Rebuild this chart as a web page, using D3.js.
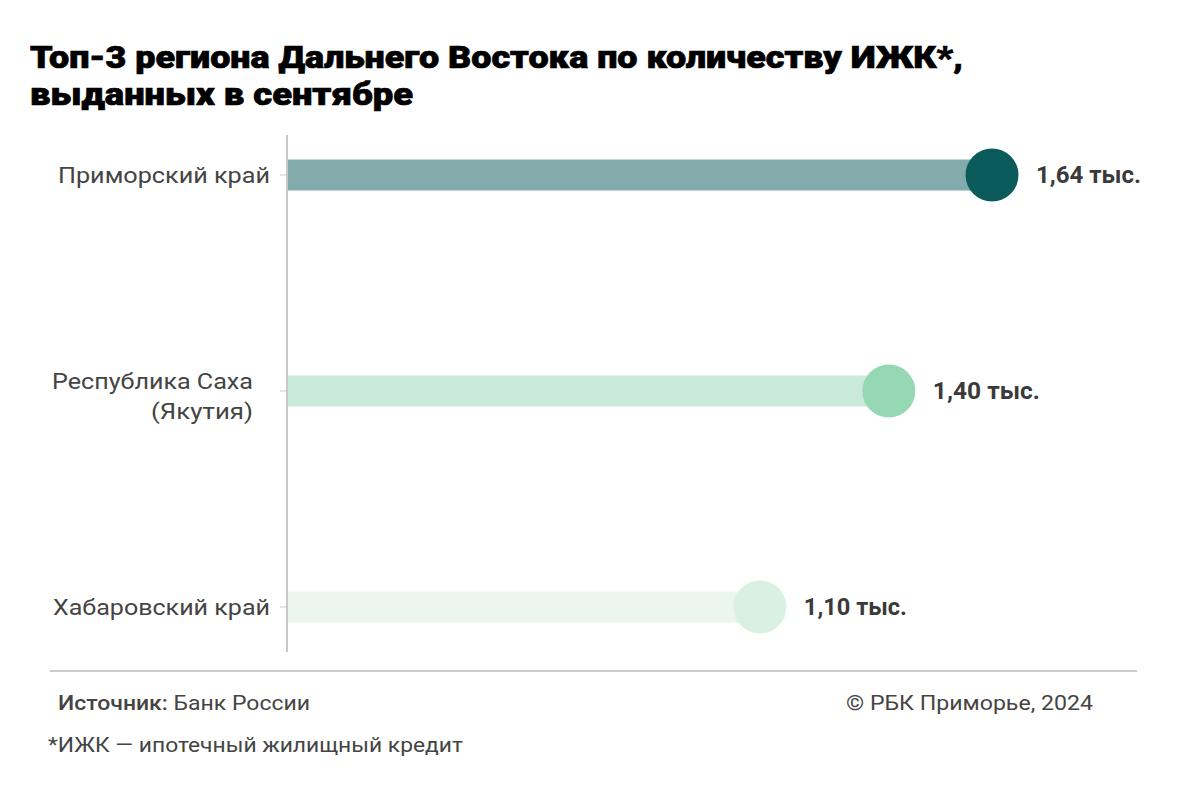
<!DOCTYPE html>
<html><head><meta charset="utf-8">
<script src="https://cdn.jsdelivr.net/npm/d3@7"></script>
<style>body{margin:0;background:#fff}svg{display:block}</style>
</head><body>
<svg id="c" width="1193" height="789"></svg>
<script>
const categories = [["Приморский край"], ["Республика Саха", "(Якутия)"], ["Хабаровский край"]];
const values = [1.64, 1.40, 1.10];
const valueLabels = ["1,64 тыс.", "1,40 тыс.", "1,10 тыс."];
const barColors = ["#83abab", "#c9eadb", "#ebf6ef"];
const dotColors = ["#0b5b5a", "#95d8b3", "#d9f0e3"];

const svg = d3.select("#c");
const font = "Roboto, 'Noto Sans', sans-serif";

function fitText(sel, w) {
  const n = sel.node();
  const cur = n.getComputedTextLength();
  if (Math.abs(cur - w) > 1) sel.attr("textLength", w).attr("lengthAdjust", "spacingAndGlyphs");
  return sel;
}

fitText(svg.append("text").attr("x", 30).attr("y", 68).attr("font-family", font).attr("font-weight", 900)
  .attr("font-size", 31).attr("fill", "#000").attr("stroke", "#000").attr("stroke-width", 0.7)
  .text("Топ-3 региона Дальнего Востока по количеству ИЖК*,"), 933);
fitText(svg.append("text").attr("x", 30).attr("y", 105).attr("font-family", font).attr("font-weight", 900)
  .attr("font-size", 31).attr("fill", "#000").attr("stroke", "#000").attr("stroke-width", 0.7)
  .text("выданных в сентябре"), 383);

const x = d3.scaleLinear().domain([0, 1.64]).range([287, 992]);
const y = d3.scalePoint().domain(d3.range(categories.length)).range([175, 607]);

svg.append("line").attr("x1", 287).attr("x2", 287).attr("y1", 135).attr("y2", 652)
  .attr("stroke", "#c8c8c8").attr("stroke-width", 2);

const g = svg.selectAll("g.row").data(values).join("g").attr("class", "row");
g.append("line").attr("x1", 280).attr("x2", 287).attr("y1", (d, i) => y(i)).attr("y2", (d, i) => y(i))
  .attr("stroke", "#c8c8c8").attr("stroke-width", 1);
g.append("rect").attr("x", 288).attr("y", (d, i) => y(i) - 15.5).attr("height", 31)
  .attr("width", d => x(d) - 288).attr("fill", (d, i) => barColors[i]);
g.append("circle").attr("cx", d => x(d)).attr("cy", (d, i) => y(i)).attr("r", 26.5)
  .attr("fill", (d, i) => dotColors[i]);
const valueWidths = [105, 107, 103];
g.each(function(d, i) {
  const t = d3.select(this).append("text").attr("x", x(d) + 44).attr("y", y(i) + 8)
    .attr("font-family", font).attr("font-weight", 700).attr("font-size", 23).attr("fill", "#3a3a3a")
    .text(valueLabels[i]);
  fitText(t, valueWidths[i]);
});
const labelWidths = [[212], [201, 102], [217]];
g.each(function(d, i) {
  const lines = categories[i];
  const off = lines.length === 1 ? 8 : -2;
  lines.forEach((l, j) => {
    const t = d3.select(this).append("text").attr("text-anchor", "end")
      .attr("x", lines.length === 1 ? 270 : 253).attr("y", y(i) + off + j * 30)
      .attr("font-family", font).attr("font-size", 22).attr("fill", "#444").text(l);
    fitText(t, labelWidths[i][j]);
  });
});

svg.append("line").attr("x1", 50).attr("x2", 1137).attr("y1", 671).attr("y2", 671)
  .attr("stroke", "#999").attr("stroke-width", 1);
const ft = svg.append("text").attr("x", 58).attr("y", 710).attr("font-family", font).attr("font-size", 21).attr("fill", "#444");
ft.append("tspan").attr("font-weight", 500).text("Источник: ");
ft.append("tspan").text("Банк России");
fitText(ft, 252);
fitText(svg.append("text").attr("x", 1093).attr("y", 710).attr("text-anchor", "end").attr("font-family", font)
  .attr("font-size", 21).attr("fill", "#444").text("© РБК Приморье, 2024"), 247);
fitText(svg.append("text").attr("x", 48).attr("y", 752).attr("font-family", font)
  .attr("font-size", 21).attr("fill", "#444").text("*ИЖК — ипотечный жилищный кредит"), 415);
</script>
</body></html>
